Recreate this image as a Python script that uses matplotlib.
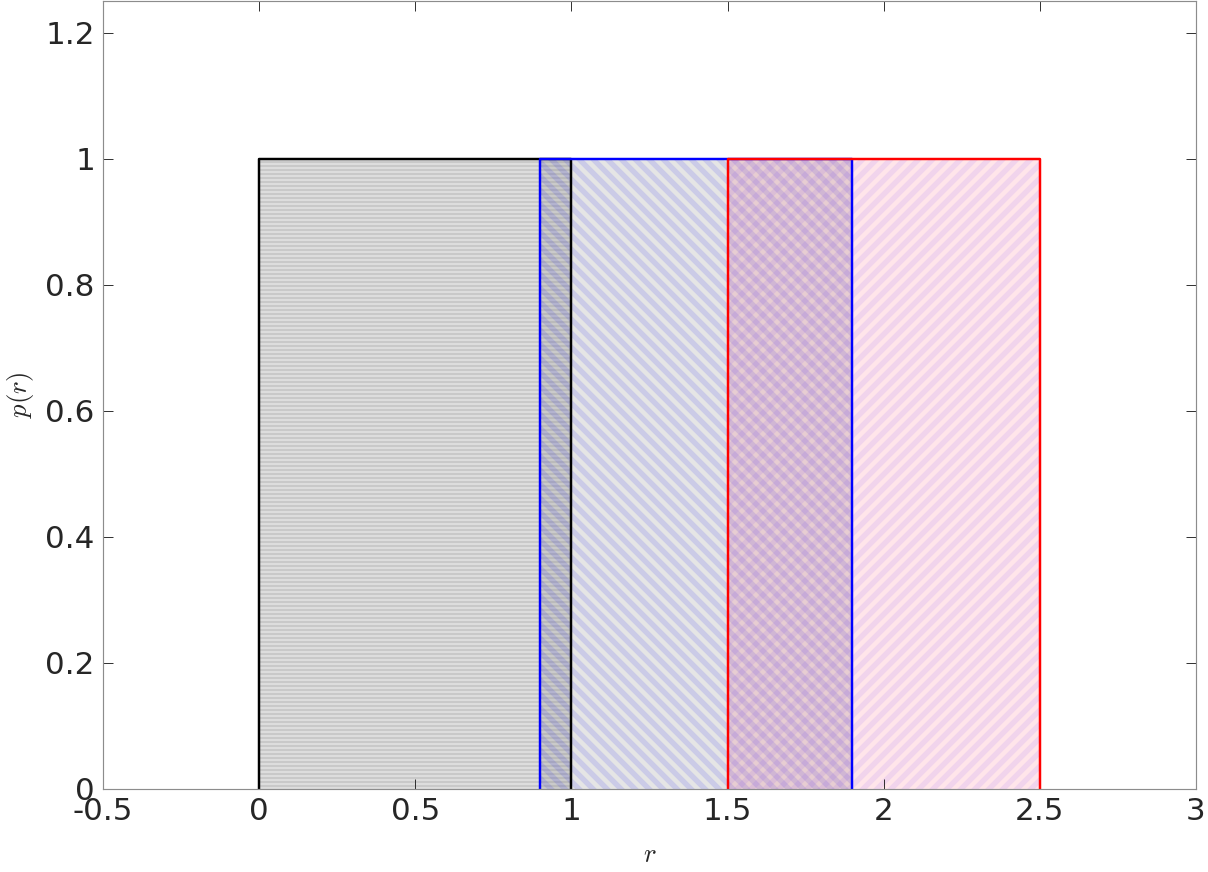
import numpy as np
import matplotlib.pyplot as plt
from matplotlib.patches import Rectangle

plt.rcParams['mathtext.fontset'] = 'cm'

# uniform densities p(r) on three intervals
lefts = [0.0, 0.9, 1.5]
widths = [1.0, 1.0, 1.0]
heights = [1.0, 1.0, 1.0]
edge_colors = ['black', 'blue', 'red']
face_colors = [(0.5, 0.5, 0.5, 0.25), (0.5, 0.5, 0.5, 0.2), (1.0, 0.0, 0.2, 0.1)]
hatch_colors = [(0.45, 0.45, 0.45, 0.2), (0.0, 0.0, 1.0, 0.11), (0.5, 0.3, 1.0, 0.11)]
hatches = ['-------', '\\\\\\\\', '////']
hatch_lw = [0.9, 2.3, 2.3]

xticks = [-0.5, 0, 0.5, 1, 1.5, 2, 2.5, 3]
xticklabels = ['-0.5', '0', '0.5', '1', '1.5', '2', '2.5', '3']
yticks = [0, 0.2, 0.4, 0.6, 0.8, 1, 1.2]
yticklabels = ['0', '0.2', '0.4', '0.6', '0.8', '1', '1.2']

# hatch spacing is tied to dpi, 168 gives 4 px and 14 px stripes
DPI = 168
fig = plt.figure(figsize=(1208 / DPI, 872 / DPI), dpi=DPI)
ax = fig.add_axes([103 / 1208, 83 / 872, 1093 / 1208, 788 / 872])

for x0, w, h, fc, hc, ht, hl in zip(lefts, widths, heights, face_colors, hatch_colors, hatches, hatch_lw):
    ax.add_patch(Rectangle((x0, 0), w, h, facecolor=fc, edgecolor='none', lw=0))
    p = Rectangle((x0, 0), w, h, facecolor='none', edgecolor=hc, lw=0, hatch=ht)
    p.set_hatch_linewidth(hl)
    ax.add_patch(p)

# outlines on top of all fills
for x0, w, h, ec in zip(lefts, widths, heights, edge_colors):
    ax.plot([x0, x0, x0 + w, x0 + w], [0, h, h, 0], color=ec, lw=1.05)

ax.set_xlim(-0.5, 3)
ax.set_ylim(0, 1.25)
ax.set_xticks(xticks)
ax.set_xticklabels(xticklabels)
ax.set_yticks(yticks)
ax.set_yticklabels(yticklabels)
ax.tick_params(direction='in', length=4.3, width=0.4, top=True, right=True,
               labelsize=13.3, colors='#262626', pad=3.5)
for s in ax.spines.values():
    s.set_color('#8c8c8c')
    s.set_linewidth(0.5)

ax.set_xlabel('$r$', fontsize=11.5, color='#262626', labelpad=7)
ax.set_ylabel('$p(r)$', fontsize=11.5, color='#262626', labelpad=4)

fig.savefig('out.png', dpi=DPI)
